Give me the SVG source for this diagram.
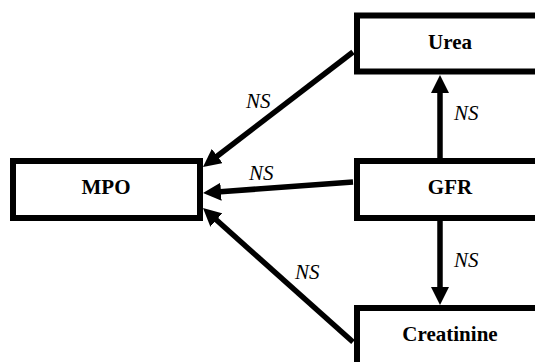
<svg xmlns="http://www.w3.org/2000/svg" width="535" height="362" viewBox="0 0 535 362">
<style>
.box{fill:#fff;stroke:#000;stroke-width:6}
.lbl{font-family:"Liberation Serif","Times New Roman",serif;font-weight:bold;font-size:21px;text-anchor:middle;fill:#000}
.ns{font-family:"Liberation Serif","Times New Roman",serif;font-style:italic;font-size:21px;fill:#000}
.edge{stroke:#000;stroke-width:5.5;fill:none;marker-end:url(#ah)}
</style>
<defs>
<marker id="ah" markerUnits="userSpaceOnUse" markerWidth="18" markerHeight="18" viewBox="0 0 18 18" refX="4" refY="9" orient="auto">
<path d="M0,0 L18,9 L0,18 z" fill="#000"/>
</marker>
</defs>
<rect width="535" height="362" fill="#fff"/>
<g id="connectors">
<line class="edge" x1="353" y1="52" x2="214.1" y2="158.5"/>
<line class="edge" x1="353" y1="182" x2="217" y2="192"/>
<line class="edge" x1="353" y1="342" x2="213.4" y2="217.3"/>
<line class="edge" x1="440" y1="158" x2="440" y2="89"/>
<line class="edge" x1="440" y1="221" x2="440" y2="291"/>
<text class="ns" x="246" y="108">NS</text>
<text class="ns" x="249" y="180">NS</text>
<text class="ns" x="295" y="279">NS</text>
<text class="ns" x="454" y="120">NS</text>
<text class="ns" x="454" y="267">NS</text>
</g>
<g id="mpo">
<rect class="box" x="13" y="161" width="187" height="57"/>
<text class="lbl" x="106" y="194">MPO</text>
</g>
<g id="urea">
<rect class="box" x="357" y="15.5" width="200" height="56"/>
<text class="lbl" x="450" y="49">Urea</text>
</g>
<g id="gfr">
<rect class="box" x="357" y="161" width="200" height="57"/>
<text class="lbl" x="450" y="194">GFR</text>
</g>
<g id="creatinine">
<rect class="box" x="357" y="308" width="200" height="80"/>
<text class="lbl" x="450" y="341">Creatinine</text>
</g>
</svg>
